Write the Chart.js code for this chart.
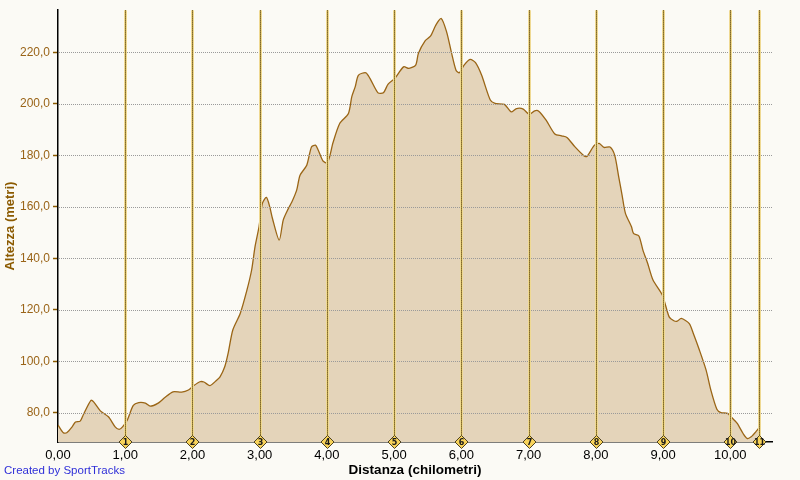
<!DOCTYPE html>
<html>
<head>
<meta charset="utf-8">
<script src="https://cdn.jsdelivr.net/npm/chart.js@4.4.0/dist/chart.umd.min.js"></script>
<style>
  html, body { margin: 0; padding: 0; background: #FBFAF5; }
  #wrap { width: 800px; height: 480px; position: relative; }
</style>
</head>
<body>
<div id="wrap"><canvas id="c" width="800" height="480"></canvas></div>
<script>
// Distance along the route (km)
const distanceKm = [
  0.00, 0.08, 0.13, 0.21, 0.26, 0.33, 0.38, 0.49, 0.53, 0.63, 0.75, 0.85, 0.91, 0.96,
  1.03, 1.12, 1.20, 1.30, 1.37, 1.49, 1.59, 1.71, 1.84, 1.94, 2.01, 2.11, 2.17, 2.26,
  2.36, 2.41, 2.48, 2.53, 2.60, 2.71, 2.81, 2.88, 2.93, 2.99, 3.04, 3.10, 3.15, 3.19,
  3.29, 3.35, 3.41, 3.48, 3.55, 3.60, 3.70, 3.77, 3.83, 3.87, 3.94, 4.00, 4.04, 4.09,
  4.19, 4.32, 4.37, 4.42, 4.47, 4.58, 4.64, 4.76, 4.84, 4.91, 5.01, 5.14, 5.22, 5.32,
  5.36, 5.46, 5.54, 5.62, 5.70, 5.78, 5.85, 5.92, 5.97, 6.04, 6.13, 6.21, 6.30, 6.43,
  6.50, 6.64, 6.74, 6.82, 6.92, 7.01, 7.09, 7.15, 7.26, 7.39, 7.49, 7.57, 7.69, 7.83,
  7.87, 7.98, 8.05, 8.12, 8.21, 8.28, 8.34, 8.39, 8.44, 8.53, 8.56, 8.64, 8.70, 8.77,
  8.85, 8.99, 9.09, 9.16, 9.21, 9.27, 9.39, 9.45, 9.54, 9.64, 9.71, 9.80, 9.86, 9.96,
  10.01, 10.10, 10.19, 10.25, 10.31, 10.40, 10.42
];
// Elevation (m)
const elevationM = [
  75.3, 72.3, 72.3, 74.6, 76.5, 76.8, 79.5, 84.9, 84.3, 80.8, 78.5, 74.6, 73.6, 74.6,
  77.2, 82.9, 84.0, 83.8, 82.6, 83.8, 86.0, 88.2, 88.1, 88.9, 90.4, 92.1, 92.0, 90.6,
  92.7, 94.0, 97.9, 103.1, 112.2, 118.6, 127.7, 135.5, 144.5, 152.3, 161.4, 163.7, 160.0, 155.5,
  147.1, 154.9, 158.5, 162.0, 166.5, 172.3, 176.2, 183.3, 184.0, 182.1, 177.9, 177.1, 179.5, 184.9,
  192.4, 196.3, 202.8, 206.6, 211.2, 212.1, 209.9, 204.3, 204.3, 207.7, 209.9, 214.4, 213.8, 215.1,
  219.6, 224.5, 226.3, 230.6, 233.2, 228.0, 220.2, 213.1, 212.1, 215.1, 217.3, 216.0, 211.2, 201.5,
  200.2, 199.8, 196.9, 198.2, 198.0, 195.9, 197.3, 197.2, 193.7, 188.3, 187.6, 187.0, 183.3, 179.7,
  179.7, 184.0, 184.7, 183.1, 183.3, 180.1, 171.7, 164.6, 157.5, 152.3, 149.7, 148.7, 143.2, 138.1,
  131.6, 125.7, 117.3, 115.8, 115.6, 116.7, 114.7, 110.8, 104.4, 96.6, 88.9, 81.4, 80.1, 79.8,
  78.5, 76.0, 72.0, 70.1, 70.7, 73.3, 74.0
];
// Axis ticks
const xTicks = [0, 1, 2, 3, 4, 5, 6, 7, 8, 9, 10];
const yTicks = [80, 100, 120, 140, 160, 180, 200, 220];
// Km markers (position, label)
const markerKm = [1, 2, 3, 4, 5, 6, 7, 8, 9, 10, 10.42];
const markerLabels = ['1', '2', '3', '4', '5', '6', '7', '8', '9', '10', '11'];

const BG = '#FBFAF5';

const bgPlugin = {
  id: 'bg',
  beforeDraw(chart) {
    const ctx = chart.ctx;
    ctx.save();
    ctx.fillStyle = BG;
    ctx.fillRect(0, 0, chart.width, chart.height);
    ctx.restore();
  }
};

// dotted horizontal grid lines at the y ticks, drawn over the filled area
const gridPlugin = {
  id: 'dotgrid',
  afterDatasetsDraw(chart) {
    const ctx = chart.ctx;
    const ys = chart.scales.y;
    const area = chart.chartArea;
    ctx.save();
    ctx.strokeStyle = '#9A9A9A';
    ctx.lineWidth = 1;
    ctx.setLineDash([1, 1]);
    ys.ticks.forEach((t) => {
      const y = Math.round(ys.getPixelForValue(t.value)) + 0.5;
      ctx.beginPath();
      ctx.moveTo(area.left + 1, y);
      ctx.lineTo(area.right, y);
      ctx.stroke();
    });
    ctx.restore();
  }
};

const markerPlugin = {
  id: 'markers',
  afterDatasetsDraw(chart) {
    const ctx = chart.ctx;
    const xs = chart.scales.x;
    const area = chart.chartArea;
    ctx.save();
    markerKm.forEach((km) => {
      const x = Math.round(xs.getPixelForValue(km)) + 0.5;
      ctx.setLineDash([]);
      ctx.strokeStyle = '#EFD992';
      ctx.lineWidth = 3;
      ctx.beginPath();
      ctx.moveTo(x, area.top);
      ctx.lineTo(x, area.bottom);
      ctx.stroke();
      ctx.strokeStyle = '#B2963E';
      ctx.lineWidth = 1;
      ctx.beginPath();
      ctx.moveTo(x, area.top);
      ctx.lineTo(x, area.bottom);
      ctx.stroke();
      ctx.strokeStyle = '#75622C';
      ctx.setLineDash([1, 1]);
      ctx.beginPath();
      ctx.moveTo(x, area.top);
      ctx.lineTo(x, area.bottom);
      ctx.stroke();
    });
    ctx.setLineDash([]);
    ctx.restore();
  },
  afterDraw(chart) {
    const ctx = chart.ctx;
    const xs = chart.scales.x;
    const y = chart.chartArea.bottom;
    ctx.save();
    markerKm.forEach((km, i) => {
      const x = Math.round(xs.getPixelForValue(km)) + 0.5;
      const h = 6.5;
      ctx.beginPath();
      ctx.moveTo(x, y - h);
      ctx.lineTo(x + h, y);
      ctx.lineTo(x, y + h);
      ctx.lineTo(x - h, y);
      ctx.closePath();
      ctx.fillStyle = '#F8D35A';
      ctx.fill();
      ctx.strokeStyle = '#4E4220';
      ctx.lineWidth = 1;
      ctx.stroke();
      ctx.fillStyle = '#1A1A1A';
      ctx.font = 'bold 8px "DejaVu Sans", sans-serif';
      ctx.textAlign = 'center';
      ctx.textBaseline = 'middle';
      ctx.fillText(markerLabels[i], x, y + 0.5);
    });
    ctx.font = '11.5px "Liberation Sans", Arial, sans-serif';
    ctx.fillStyle = '#2F2FD8';
    ctx.textAlign = 'left';
    ctx.textBaseline = 'middle';
    ctx.fillText('Created by SportTracks', 4, 471);
    ctx.restore();
  }
};

new Chart(document.getElementById('c'), {
  type: 'line',
  data: {
    datasets: [{
      data: distanceKm.map((d, i) => ({ x: d, y: elevationM[i] })),
      borderColor: '#9A6515',
      borderWidth: 1.3,
      backgroundColor: '#E4D4BA',
      fill: 'start',
      pointRadius: 0,
      tension: 0.25
    }]
  },
  options: {
    responsive: false,
    animation: false,
    devicePixelRatio: 1,
    layout: { padding: { top: 10, right: 28, left: 0, bottom: 0 } },
    plugins: { legend: { display: false }, tooltip: { enabled: false } },
    scales: {
      x: {
        type: 'linear',
        min: 0,
        max: 10.62,
        afterBuildTicks(scale) { scale.ticks = xTicks.map(v => ({ value: v })); },
        afterFit(scale) { scale.height = 38; },
        grid: { display: false, drawTicks: false },
        border: { display: true, color: '#000', width: 1.5 },
        ticks: {
          padding: 6,
          color: '#000',
          maxRotation: 0,
          autoSkip: false,
          font: { family: '"Liberation Sans", Arial, sans-serif', size: 13 },
          callback: (v) => Number(v).toFixed(2).replace('.', ',')
        },
        title: {
          display: true,
          text: 'Distanza (chilometri)',
          color: '#000',
          font: { family: '"Liberation Sans", Arial, sans-serif', size: 13.5, weight: 'bold' },
          padding: { top: 0, bottom: 2 }
        }
      },
      y: {
        type: 'linear',
        min: 68.7,
        max: 236.4,
        afterBuildTicks(scale) { scale.ticks = yTicks.map(v => ({ value: v })); },
        afterFit(scale) { scale.width = 58; },
        grid: {
          display: true,
          drawOnChartArea: false,
          drawTicks: true,
          tickLength: 5,
          tickColor: '#8B5A00',
          tickWidth: 1.5
        },
        border: { display: true, color: '#000', width: 1.5 },
        ticks: {
          padding: 3,
          color: '#9A6418',
          font: { family: '"Liberation Sans", Arial, sans-serif', size: 12 },
          callback: (v) => Number(v).toFixed(1).replace('.', ',')
        },
        title: {
          display: true,
          text: 'Altezza (metri)',
          color: '#8B5A00',
          font: { family: '"Liberation Sans", Arial, sans-serif', size: 13, weight: 'bold' },
          padding: { top: 3, bottom: 0 }
        }
      }
    }
  },
  plugins: [bgPlugin, gridPlugin, markerPlugin]
});
</script>
</body>
</html>
